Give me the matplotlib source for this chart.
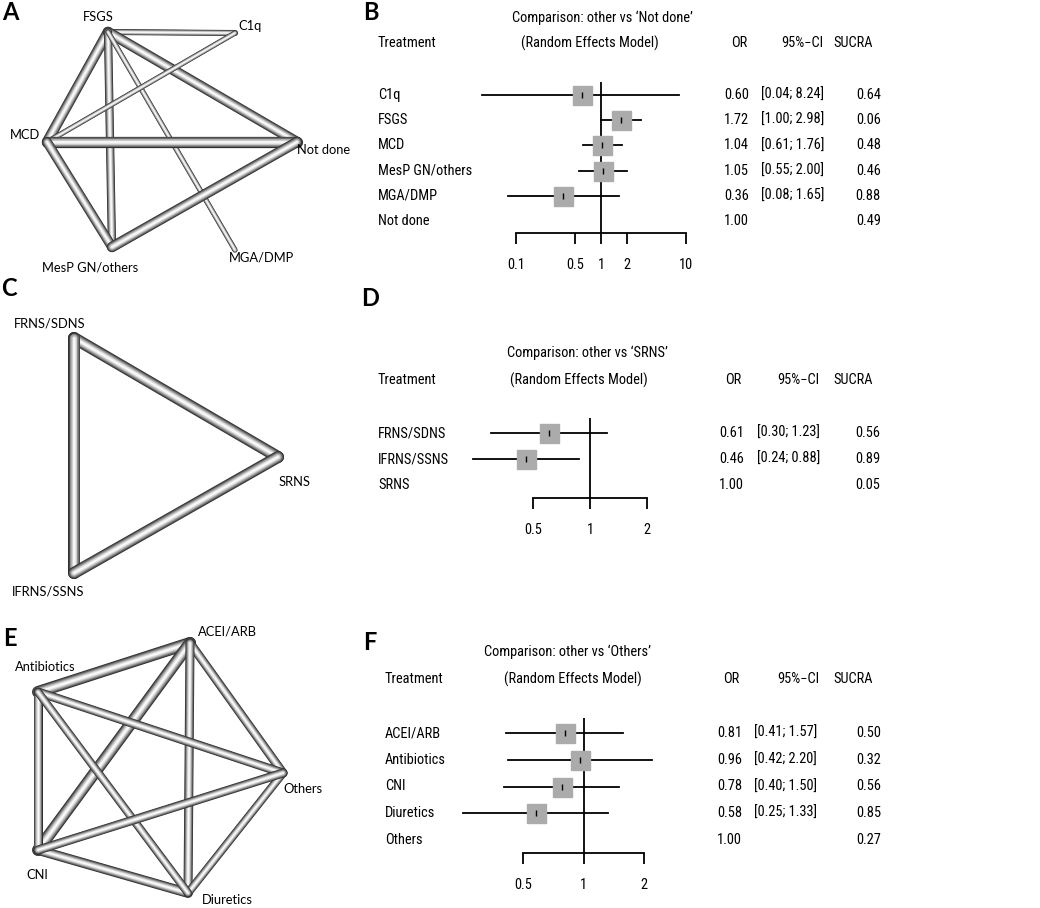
import matplotlib
matplotlib.use("Agg")
import matplotlib.pyplot as plt
from matplotlib import font_manager as fm

W, H, DPI = 1040, 908, 100
REG = ["Lato", "Open Sans", "DejaVu Sans"]

# pick a condensed face for the forest tables if one is installed
_names = {f.name for f in fm.fontManager.ttflist}
_cond = [f for f in fm.fontManager.ttflist if f.stretch in ("condensed", "semi-condensed", "extra-condensed")]
STRETCH = "normal"
if "Roboto Condensed" in _names:
    NARROW, FS = ["Roboto Condensed", "DejaVu Sans"], 10.4
elif "Liberation Sans Narrow" in _names:
    NARROW, FS = ["Liberation Sans Narrow", "DejaVu Sans"], 10.8
elif _cond:
    NARROW, FS, STRETCH = [_cond[0].name, "DejaVu Sans"], 10.0, "condensed"
else:
    NARROW, FS = ["Lato", "DejaVu Sans"], 9.5

# ---------------- data ----------------
# A: network by renal histology
a_edges = [("FSGS", "C1q"), ("FSGS", "MCD"), ("FSGS", "Not done"), ("FSGS", "MesP GN/others"),
           ("FSGS", "MGA/DMP"), ("MCD", "C1q"), ("MCD", "Not done"), ("MCD", "MesP GN/others"),
           ("MesP GN/others", "Not done")]
a_edge_w = [4, 7, 7, 5.5, 3.5, 3.5, 7.5, 6.5, 7]

# B: forest vs 'Not done'
b_treat = ["C1q", "FSGS", "MCD", "MesP GN/others", "MGA/DMP", "Not done"]
b_or = [0.60, 1.72, 1.04, 1.05, 0.36, 1.00]
b_lo = [0.04, 1.00, 0.61, 0.55, 0.08, None]
b_hi = [8.24, 2.98, 1.76, 2.00, 1.65, None]
b_sucra = [0.64, 0.06, 0.48, 0.46, 0.88, 0.49]
b_ticks = [0.1, 0.5, 1, 2, 10]
b_ticklabels = ["0.1", "0.5", "1", "2", "10"]

# C: network by steroid response
c_edges = [("FRNS/SDNS", "SRNS"), ("FRNS/SDNS", "IFRNS/SSNS"), ("IFRNS/SSNS", "SRNS")]
c_edge_w = [8, 8, 8]

# D: forest vs 'SRNS'
d_treat = ["FRNS/SDNS", "IFRNS/SSNS", "SRNS"]
d_or = [0.61, 0.46, 1.00]
d_lo = [0.30, 0.24, None]
d_hi = [1.23, 0.88, None]
d_sucra = [0.56, 0.89, 0.05]
d_ticks = [0.5, 1, 2]
d_ticklabels = ["0.5", "1", "2"]

# E: network by drug
e_edges = [("Antibiotics", "ACEI/ARB"), ("ACEI/ARB", "CNI"), ("CNI", "Diuretics"),
           ("Antibiotics", "CNI"), ("ACEI/ARB", "Others"), ("ACEI/ARB", "Diuretics"),
           ("Others", "Diuretics"), ("Antibiotics", "Others"), ("Antibiotics", "Diuretics"),
           ("CNI", "Others")]
e_edge_w = [8, 8, 6.5, 6, 6, 6, 5.5, 6, 5.5, 6]

# F: forest vs 'Others'
f_treat = ["ACEI/ARB", "Antibiotics", "CNI", "Diuretics", "Others"]
f_or = [0.81, 0.96, 0.78, 0.58, 1.00]
f_lo = [0.41, 0.42, 0.40, 0.25, None]
f_hi = [1.57, 2.20, 1.50, 1.33, None]
f_sucra = [0.50, 0.32, 0.56, 0.85, 0.27]
f_ticks = [0.5, 1, 2]
f_ticklabels = ["0.5", "1", "2"]

# ---------------- layout (pixels) ----------------
a_pos = {"FSGS": (108, 32), "C1q": (235, 33), "MCD": (47, 142), "Not done": (297, 142),
         "MesP GN/others": (112, 247), "MGA/DMP": (235, 250)}
a_lab = {"FSGS": (98, 17), "C1q": (250, 26), "MCD": (25, 135), "Not done": (324, 150),
         "MesP GN/others": (90, 267), "MGA/DMP": (262, 258)}
c_pos = {"FRNS/SDNS": (74, 338), "SRNS": (278, 457), "IFRNS/SSNS": (74, 573)}
c_lab = {"FRNS/SDNS": (50, 323), "SRNS": (295, 482), "IFRNS/SSNS": (48, 592)}
e_pos = {"ACEI/ARB": (190, 643), "Antibiotics": (38, 692), "Others": (283, 773),
         "CNI": (38, 850), "Diuretics": (188, 893)}
e_lab = {"ACEI/ARB": (227, 632), "Antibiotics": (45, 667), "Others": (303, 789),
         "CNI": (37, 875), "Diuretics": (227, 900)}

fig = plt.figure(figsize=(W / DPI, H / DPI), dpi=DPI)
bg = fig.add_axes([0, 0, 1, 1])
bg.set_xlim(0, W)
bg.set_ylim(H, 0)
bg.axis("off")

PT = 72.0 / DPI


def tube(p, q, w):
    # fake shaded tube: dark rim -> white core
    layers = [(1.0, "#2e2e2e"), (0.88, "#4e4e4e"), (0.76, "#707070"), (0.64, "#929292"),
              (0.52, "#b2b2b2"), (0.40, "#cecece"), (0.28, "#e6e6e6"), (0.14, "#fafafa")]
    for frac, col in layers:
        bg.plot([p[0], q[0]], [p[1], q[1]], color=col, lw=w * 1.5 * frac * PT,
                solid_capstyle="round", zorder=2)


def network(edges, widths, pos, lab):
    for (u, v), w in zip(edges, widths):
        tube(pos[u], pos[v], w)
    for name, (x, y) in lab.items():
        bg.text(x, y, name, ha="center", va="center", fontsize=9.3, family=REG)


network(a_edges, a_edge_w, a_pos, a_lab)
network(c_edges, c_edge_w, c_pos, c_lab)
network(e_edges, e_edge_w, e_pos, e_lab)

for letter, (x, y) in {"A": (10, 12), "B": (371, 12), "C": (9, 289), "D": (370, 298),
                       "E": (10, 639), "F": (370, 642)}.items():
    bg.text(x, y, letter, ha="center", va="center", fontsize=17, fontweight="bold", family=REG)


def txt(x, y, s, ha):
    bg.text(x, y, s, ha=ha, va="center", fontsize=FS, family=NARROW, fontstretch=STRETCH)


def forest(treat, est, lo, hi, sucra, ticks, ticklabels, ref, g):
    n = len(treat)
    # header
    txt(g["hx"], g["h1"], f"Comparison: other vs \u2018{ref}\u2019", "center")
    txt(g["lx"], g["h2"], "Treatment", "left")
    txt(g["rx"], g["h2"], "(Random Effects Model)", "center")
    txt(g["orc"], g["h2"], "OR", "center")
    txt(g["cir"], g["h2"], "95%\u2212CI", "right")
    txt(873, g["h2"], "SUCRA", "right")

    # forest axes
    x0, x1 = g["px0"], g["px1"]
    ytop, yax, row0, dy = g["ytop"], g["yax"], g["row0"], g["dy"]
    ax = fig.add_axes([x0 / W, 1 - yax / H, (x1 - x0) / W, (yax - ytop) / H])
    ax.set_xscale("log")
    ax.set_xlim(ticks[0], ticks[-1])
    rowlast = row0 + dy * (n - 1)
    ax.set_ylim(n - 1 + (yax - rowlast) / dy, -(row0 - ytop) / dy)
    ax.patch.set_alpha(0)
    for s in ["top", "left", "right"]:
        ax.spines[s].set_visible(False)
    ax.spines["bottom"].set_linewidth(1.3)
    ax.set_yticks([])
    ax.set_xticks(ticks)
    ax.set_xticklabels(ticklabels, family=NARROW, fontsize=FS, fontstretch=STRETCH)
    ax.minorticks_off()
    ax.tick_params(axis="x", direction="out", length=8, width=1.3, pad=10)
    ax.axvline(1, color="black", lw=1.3, zorder=1)

    for i in range(n):
        y = row0 + dy * i
        txt(g["lx"], y, treat[i], "left")
        txt(g["orx"], y, f"{est[i]:.2f}", "right")
        txt(g["sux"], y, f"{sucra[i]:.2f}", "right")
        if lo[i] is None:
            continue
        txt(g["cix"], y, f"[{lo[i]:.2f}; {hi[i]:.2f}]", "left")
        ax.plot([lo[i], hi[i]], [i, i], color="black", lw=1.3, zorder=2, clip_on=False)
        ax.plot(est[i], i, marker="s", ms=19 * PT, color="#ababab", mec="#ababab", zorder=3,
                clip_on=False)
        ax.plot(est[i], i, marker="|", ms=6 * PT, color="black", mew=1.0, zorder=4, clip_on=False)


forest(b_treat, b_or, b_lo, b_hi, b_sucra, b_ticks, b_ticklabels, "Not done",
       dict(hx=602, h1=18, h2=43, lx=378, rx=590, orc=739, cir=823, orx=749, cix=761, sux=881,
            px0=516, px1=686, ytop=82, yax=233, row0=95, dy=25.2))
forest(d_treat, d_or, d_lo, d_hi, d_sucra, d_ticks, d_ticklabels, "SRNS",
       dict(hx=587, h1=353, h2=380, lx=378, rx=579, orc=733, cir=819, orx=744, cix=757, sux=880,
            px0=533, px1=647, ytop=418, yax=498, row0=433, dy=26))
forest(f_treat, f_or, f_lo, f_hi, f_sucra, f_ticks, f_ticklabels, "Others",
       dict(hx=568, h1=652, h2=679, lx=385, rx=573, orc=731, cir=819, orx=742, cix=754, sux=881,
            px0=523, px1=644, ytop=718, yax=853, row0=733, dy=26.75))

fig.savefig("out.png", dpi=DPI)
